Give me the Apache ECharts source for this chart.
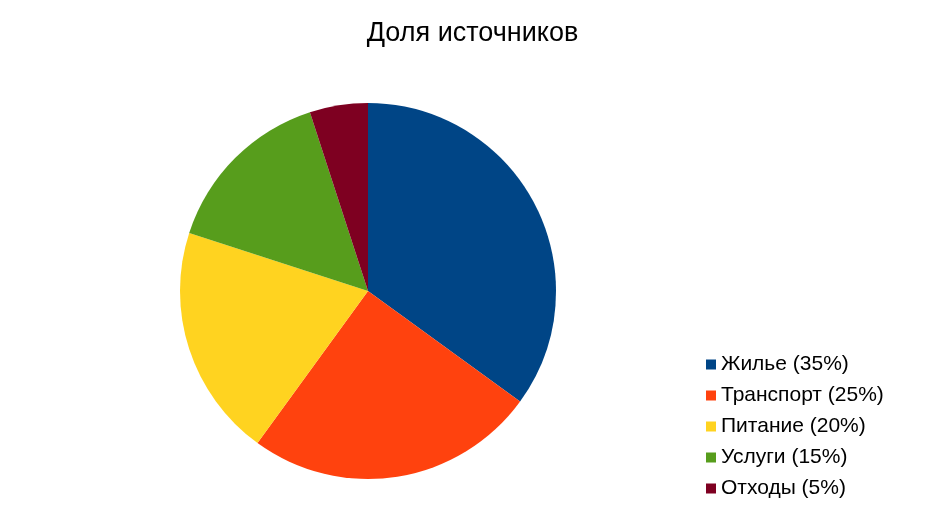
<!DOCTYPE html>
<html><head><meta charset="utf-8">
<script src="https://cdn.jsdelivr.net/npm/echarts@6/dist/echarts.min.js"></script>
<style>html,body{margin:0;padding:0;background:#fff}#c{width:945px;height:531px}</style>
</head><body><div id="c"></div>
<script>
const categories = ['Жилье (35%)', 'Транспорт (25%)', 'Питание (20%)', 'Услуги (15%)', 'Отходы (5%)'];
const values = [35, 25, 20, 15, 5];
const colors = ['#004586', '#ff420e', '#ffd320', '#579d1c', '#7e0021'];
const chart = echarts.init(document.getElementById('c'), null, {renderer: 'canvas'});
chart.setOption({
  animation: false,
  backgroundColor: '#fff',
  title: {
    text: 'Доля источников', left: 'center', top: 15,
    textStyle: {fontFamily: 'Liberation Sans', fontSize: 27, fontWeight: 'normal', color: '#000'}
  },
  legend: {
    orient: 'vertical', left: 701, top: 349,
    icon: 'rect', itemWidth: 10, itemHeight: 10, itemGap: 10,
    textStyle: {fontFamily: 'Liberation Sans', fontSize: 21, color: '#000', lineHeight: 21},
    data: categories
  },
  series: [{
    type: 'pie', center: [368, 291], radius: 188, startAngle: 90, clockwise: true,
    label: {show: false}, labelLine: {show: false},
    emphasis: {disabled: true},
    itemStyle: {borderWidth: 0},
    data: categories.map((n, i) => ({name: n, value: values[i], itemStyle: {color: colors[i]}}))
  }]
});
</script></body></html>
